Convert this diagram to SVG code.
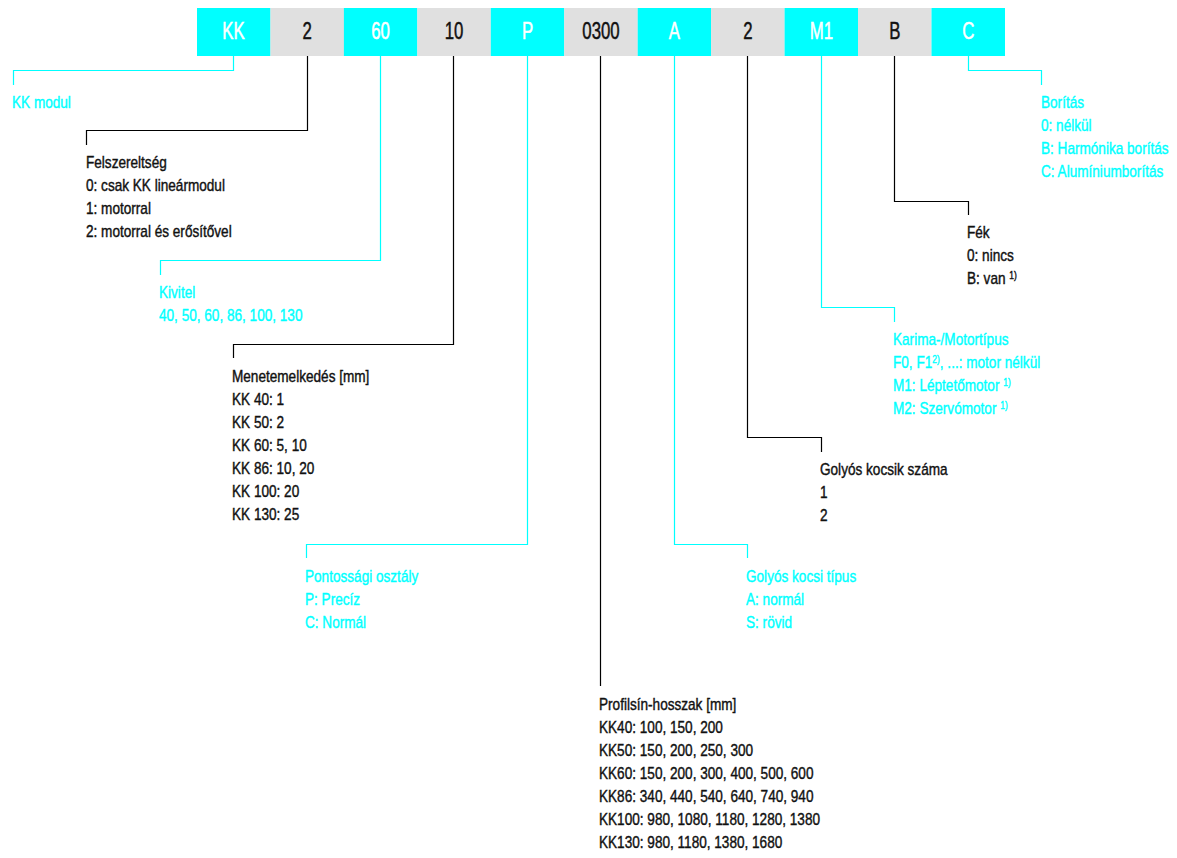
<svg xmlns="http://www.w3.org/2000/svg" width="1177" height="858" viewBox="0 0 1177 858">
<style>
.bc{fill:#00ffff}
.bg{fill:#e0e0e0}
.bl{font-family:"Liberation Sans",Arial,sans-serif;font-size:24px;text-anchor:middle;stroke-width:0.5}
.wt{fill:#ffffff;stroke:#ffffff}
.kt{fill:#111111;stroke:#111111}
.t{font-family:"Liberation Sans",Arial,sans-serif;font-size:16px;stroke-width:0.4}
.c{fill:#00ffff;stroke:#00ffff}
.k{fill:#111111;stroke:#111111}
.sup{font-size:10px}
.lc{stroke:#00ffff;fill:none;stroke-width:1.2}
.lk{stroke:#000000;fill:none;stroke-width:1.2}
</style>
<rect width="1177" height="858" fill="#ffffff"/>

<g id="code-bar">
  <g id="seg-kk"><rect class="bc" x="197" y="8" width="73.5" height="48"/><text class="bl wt" transform="translate(233.5,39) scale(0.7,1)">KK</text></g>
  <g id="seg-2a"><rect class="bg" x="270.5" y="8" width="73.5" height="48"/><text class="bl kt" transform="translate(307.2,39) scale(0.7,1)">2</text></g>
  <g id="seg-60"><rect class="bc" x="343.9" y="8" width="73.5" height="48"/><text class="bl wt" transform="translate(380.6,39) scale(0.7,1)">60</text></g>
  <g id="seg-10"><rect class="bg" x="417.3" y="8" width="73.5" height="48"/><text class="bl kt" transform="translate(454,39) scale(0.7,1)">10</text></g>
  <g id="seg-p"><rect class="bc" x="490.8" y="8" width="73.5" height="48"/><text class="bl wt" transform="translate(527.5,39) scale(0.7,1)">P</text></g>
  <g id="seg-0300"><rect class="bg" x="564.2" y="8" width="73.5" height="48"/><text class="bl kt" transform="translate(601,39) scale(0.7,1)">0300</text></g>
  <g id="seg-a"><rect class="bc" x="637.7" y="8" width="73.5" height="48"/><text class="bl wt" transform="translate(674.4,39) scale(0.7,1)">A</text></g>
  <g id="seg-2b"><rect class="bg" x="711.1" y="8" width="73.5" height="48"/><text class="bl kt" transform="translate(747.9,39) scale(0.7,1)">2</text></g>
  <g id="seg-m1"><rect class="bc" x="784.6" y="8" width="73.5" height="48"/><text class="bl wt" transform="translate(821.3,39) scale(0.7,1)">M1</text></g>
  <g id="seg-b"><rect class="bg" x="858" y="8" width="73.5" height="48"/><text class="bl kt" transform="translate(894.8,39) scale(0.7,1)">B</text></g>
  <g id="seg-c"><rect class="bc" x="931.5" y="8" width="73.5" height="48"/><text class="bl wt" transform="translate(968.2,39) scale(0.7,1)">C</text></g>
</g>

<g id="connectors">
  <polyline class="lc" points="233.5,56 233.5,70.5 13.5,70.5 13.5,85"/>
  <polyline class="lk" points="307.5,56 307.5,130.5 86.5,130.5 86.5,145"/>
  <polyline class="lc" points="380.5,56 380.5,260.5 160.5,260.5 160.5,275"/>
  <polyline class="lk" points="453.5,56 453.5,344.5 233.5,344.5 233.5,358"/>
  <polyline class="lc" points="527.5,56 527.5,544.5 306.5,544.5 306.5,558"/>
  <polyline class="lk" points="600.5,56 600.5,686"/>
  <polyline class="lc" points="674.5,56 674.5,544.5 747.5,544.5 747.5,558"/>
  <polyline class="lk" points="747.5,56 747.5,437.5 821.5,437.5 821.5,452"/>
  <polyline class="lc" points="821.5,56 821.5,307.5 894.5,307.5 894.5,322"/>
  <polyline class="lk" points="894.5,56 894.5,201.5 968.5,201.5 968.5,215"/>
  <polyline class="lc" points="968.5,56 968.5,70.5 1041.5,70.5 1041.5,85"/>
</g>

<g id="desc-kk" class="t c" transform="translate(12,108) scale(0.85,1)">
  <text x="0" y="0">KK modul</text>
</g>

<g id="desc-felszereltseg" class="t k" transform="translate(86,168) scale(0.85,1)">
  <text x="0" y="0">Felszereltség</text>
  <text x="0" y="23">0: csak KK lineármodul</text>
  <text x="0" y="46">1: motorral</text>
  <text x="0" y="69">2: motorral és erősítővel</text>
</g>

<g id="desc-kivitel" class="t c" transform="translate(159,298) scale(0.85,1)">
  <text x="0" y="0">Kivitel</text>
  <text x="0" y="23">40, 50, 60, 86, 100, 130</text>
</g>

<g id="desc-menetemelkedes" class="t k" transform="translate(232,382) scale(0.85,1)">
  <text x="0" y="0">Menetemelkedés [mm]</text>
  <text x="0" y="23">KK 40: 1</text>
  <text x="0" y="46">KK 50: 2</text>
  <text x="0" y="69">KK 60: 5, 10</text>
  <text x="0" y="92">KK 86: 10, 20</text>
  <text x="0" y="115">KK 100: 20</text>
  <text x="0" y="138">KK 130: 25</text>
</g>

<g id="desc-pontossag" class="t c" transform="translate(305,582) scale(0.85,1)">
  <text x="0" y="0">Pontossági osztály</text>
  <text x="0" y="23">P: Precíz</text>
  <text x="0" y="46">C: Normál</text>
</g>

<g id="desc-profilsin" class="t k" transform="translate(599,710) scale(0.85,1)">
  <text x="0" y="0">Profilsín-hosszak [mm]</text>
  <text x="0" y="23">KK40: 100, 150, 200</text>
  <text x="0" y="46">KK50: 150, 200, 250, 300</text>
  <text x="0" y="69">KK60: 150, 200, 300, 400, 500, 600</text>
  <text x="0" y="92">KK86: 340, 440, 540, 640, 740, 940</text>
  <text x="0" y="115">KK100: 980, 1080, 1180, 1280, 1380</text>
  <text x="0" y="138">KK130: 980, 1180, 1380, 1680</text>
</g>

<g id="desc-kocsi-tipus" class="t c" transform="translate(746,582) scale(0.85,1)">
  <text x="0" y="0">Golyós kocsi típus</text>
  <text x="0" y="23">A: normál</text>
  <text x="0" y="46">S: rövid</text>
</g>

<g id="desc-kocsik-szama" class="t k" transform="translate(820,475) scale(0.85,1)">
  <text x="0" y="0">Golyós kocsik száma</text>
  <text x="0" y="23">1</text>
  <text x="0" y="46">2</text>
</g>

<g id="desc-motortipus" class="t c" transform="translate(893,345) scale(0.85,1)">
  <text x="0" y="0">Karima-/Motortípus</text>
  <text x="0" y="23">F0, F1<tspan class="sup" dy="-5">2)</tspan><tspan dy="5">, ...: motor nélkül</tspan></text>
  <text x="0" y="46">M1: Léptetőmotor <tspan class="sup" dy="-5">1)</tspan></text>
  <text x="0" y="69">M2: Szervómotor <tspan class="sup" dy="-5">1)</tspan></text>
</g>

<g id="desc-fek" class="t k" transform="translate(967,238) scale(0.85,1)">
  <text x="0" y="0">Fék</text>
  <text x="0" y="23">0: nincs</text>
  <text x="0" y="46">B: van <tspan class="sup" dy="-5">1)</tspan></text>
</g>

<g id="desc-boritas" class="t c" transform="translate(1041,108) scale(0.85,1)">
  <text x="0" y="0">Borítás</text>
  <text x="0" y="23">0: nélkül</text>
  <text x="0" y="46">B: Harmónika borítás</text>
  <text x="0" y="69">C: Alumíniumborítás</text>
</g>
</svg>
